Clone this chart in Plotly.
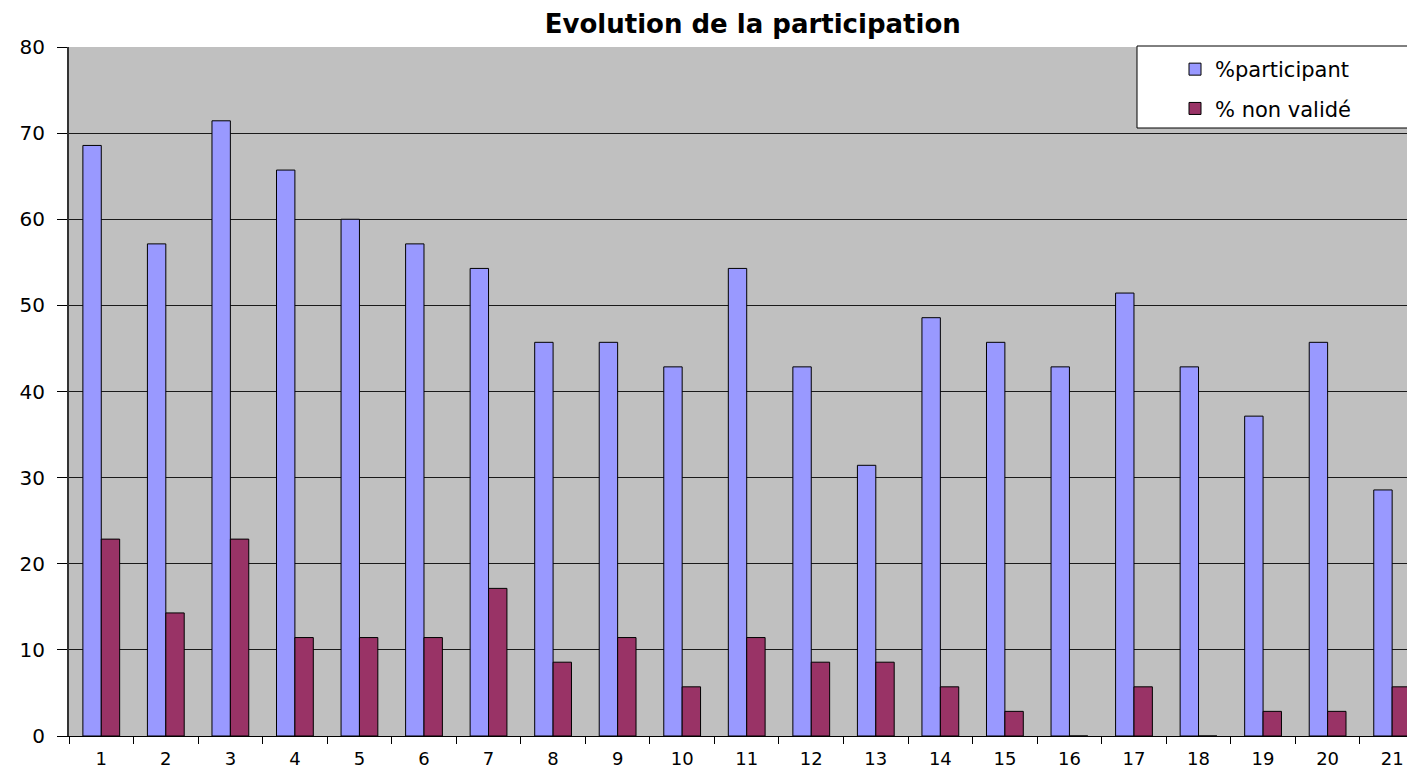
import plotly.graph_objects as go

categories = [str(i) for i in range(1, 22)]
participant = [68.57, 57.14, 71.43, 65.71, 60.0, 57.14, 54.29, 45.71, 45.71, 42.86,
               54.29, 42.86, 31.43, 48.57, 45.71, 42.86, 51.43, 42.86, 37.14, 45.71, 28.57]
non_valide = [22.86, 14.29, 22.86, 11.43, 11.43, 11.43, 17.14, 8.57, 11.43, 5.71,
              11.43, 8.57, 8.57, 5.71, 2.86, 0.0, 5.71, 0.0, 2.86, 2.86, 5.71]
y_ticks = list(range(0, 81, 10))

FONT = "DejaVu Sans"

fig = go.Figure()
fig.add_trace(go.Bar(
    x=categories, y=participant, name="%participant",
    marker=dict(color="#9999FF", line=dict(color="#000000", width=1)),
    legendgroup="a",
))
fig.add_trace(go.Bar(
    x=categories, y=non_valide, name="% non validé",
    marker=dict(color="#993366", line=dict(color="#000000", width=1)),
    legendgroup="b",
))

W, H = 1407, 772
ml, mr, mt, mb = 69, 0, 47, 36
pw, ph = W - ml - mr, H - mt - mb

def px_to_paper_x(px):
    return (px - ml) / pw

def px_to_paper_y(py):
    return (H - mb - py) / ph

fig.update_layout(
    width=W, height=H,
    margin=dict(l=ml, r=mr, t=mt, b=mb, autoexpand=False),
    paper_bgcolor="#FFFFFF",
    plot_bgcolor="#C0C0C0",
    barmode="group",
    bargap=0.43,
    bargroupgap=0,
    showlegend=True,
    title=dict(
        text="<b>Evolution de la participation</b>",
        x=0.535, xanchor="center",
        y=1 - 24 / H, yanchor="middle",
        font=dict(family=FONT, size=26, color="#000000"),
    ),
    font=dict(family=FONT, size=20, color="#000000"),
    xaxis=dict(
        type="category",
        range=[-0.5, 20.23],
        showgrid=False,
        showline=True, linecolor="#000000", linewidth=1,
        ticks="outside", ticklen=7, tickcolor="#000000", tickwidth=1,
        tickson="boundaries",
        ticklabelstandoff=6,
        tickfont=dict(family=FONT, size=18, color="#000000"),
        automargin=False,
        fixedrange=True,
    ),
    yaxis=dict(
        range=[0, 80],
        tickvals=y_ticks,
        showgrid=True, gridcolor="#1a1a1a", gridwidth=1,
        zeroline=False,
        showline=True, linecolor="#333333", linewidth=2,
        ticks="outside", ticklen=10, tickcolor="#000000", tickwidth=1,
        ticklabelstandoff=8,
        tickfont=dict(family=FONT, size=20, color="#000000"),
        automargin=False,
        fixedrange=True,
    ),
    legend=dict(
        x=px_to_paper_x(1175), xanchor="left",
        y=px_to_paper_y(49), yanchor="top",
        bgcolor="rgba(0,0,0,0)", borderwidth=0,
        tracegroupgap=9,
        traceorder="grouped",
        font=dict(family=FONT, size=21, color="#000000"),
    ),
    shapes=[dict(
        type="rect", xref="paper", yref="paper",
        x0=px_to_paper_x(1137), x1=1.003,
        y0=px_to_paper_y(128), y1=px_to_paper_y(46),
        fillcolor="#FFFFFF", line=dict(color="#000000", width=1),
        layer="between",
    )],
)

fig.write_html("out.html", config={"displayModeBar": False})

with open("out.html", "r", encoding="utf-8") as f:
    html = f.read()
html = html.replace("<body>", '<body style="margin:0;padding:0;overflow:hidden">', 1)
with open("out.html", "w", encoding="utf-8") as f:
    f.write(html)
